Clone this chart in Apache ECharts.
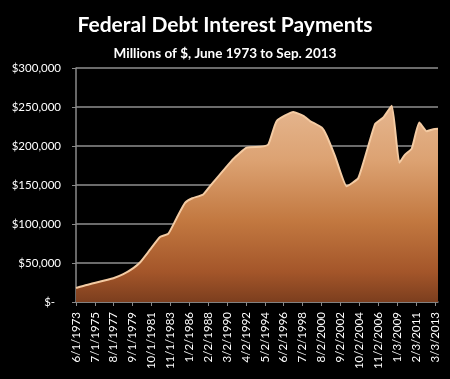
<!DOCTYPE html>
<html>
<head>
<meta charset="utf-8">
<script src="https://cdn.jsdelivr.net/npm/echarts@6/dist/echarts.min.js"></script>
<style>
html,body{margin:0;padding:0;background:#000;}
#chart{width:450px;height:379px;}
</style>
</head>
<body>
<div id="chart"></div>
<script>
// Tick labels on the date axis
var tickLabels = ['6/1/1973','7/1/1975','8/1/1977','9/1/1979','10/1/1981','11/1/1983','1/2/1986','2/2/1988','3/2/1990','4/2/1992','5/2/1994','6/2/1996','7/2/1998','8/2/2000','9/2/2002','10/2/2004','11/2/2006','1/3/2009','2/3/2011','3/3/2013'];
// Observation times (decimal years) and interest payments (millions of $)
var pointYears = [1973.42,1974.6,1977.55,1978.65,1979.76,1980.5,1981.61,1982.72,1983.64,1984.57,1985.49,1986.3,1987.5,1988.26,1990.84,1992.32,1993.79,1994.71,1995.64,1997.48,1998.59,1999.33,2000.62,2001.18,2002.1,2003.39,2004.68,2006.53,2007.45,2008.38,2009.22,2009.85,2010.59,2011.43,2012.25,2012.98,2013.5];
var interestValues = [18000,21900,30500,35600,43400,50600,67000,83300,87600,107800,127000,133000,137800,148500,183500,198000,199000,202000,232000,243700,238600,232000,223600,212800,187000,148500,159000,228000,236500,251500,178600,189000,196600,230000,219000,221500,222000];
var yTicks = [0,50000,100000,150000,200000,250000,300000];

function toYear(s){
  var p = s.split('/');
  var m = +p[0], d = +p[1], y = +p[2];
  return y + (m - 1 + (d - 1) / 30) / 12;
}
var tickYears = tickLabels.map(toYear);
var seriesData = pointYears.map(function(x, i){ return [x, interestValues[i]]; });

var FONT = 'Lato, "Open Sans", sans-serif';
var chart = echarts.init(document.getElementById('chart'));
chart.setOption({
  backgroundColor: '#000',
  animation: false,
  title: [
    {text: 'Federal Debt Interest Payments', left: 'center', top: 10,
     textStyle: {color: '#fff', fontSize: 21, fontWeight: 'bold', fontFamily: FONT}},
    {text: 'Millions of $, June 1973 to Sep. 2013', left: 'center', top: 42,
     textStyle: {color: '#fff', fontSize: 13.5, fontWeight: 'bold', fontFamily: FONT}}
  ],
  grid: {left: 76, right: 12, top: 68, bottom: 77},
  xAxis: {
    type: 'value',
    min: tickYears[0],
    max: pointYears[pointYears.length - 1],
    splitLine: {show: false},
    axisLine: {show: true, onZero: false, lineStyle: {color: '#8a8a8a', width: 1.5}},
    axisTick: {show: true, customValues: tickYears, length: 4, lineStyle: {color: '#8a8a8a'}},
    axisLabel: {
      customValues: tickYears,
      rotate: 90,
      margin: 10,
      color: '#fff',
      fontSize: 11.5,
      fontFamily: FONT,
      formatter: function(v){
        var best = 0, bd = 1e9;
        for (var i = 0; i < tickYears.length; i++) {
          var dd = Math.abs(tickYears[i] - v);
          if (dd < bd) { bd = dd; best = i; }
        }
        return tickLabels[best];
      }
    }
  },
  yAxis: {
    type: 'value',
    min: 0, max: 300000, interval: 50000,
    axisLine: {show: true, lineStyle: {color: '#8a8a8a', width: 1.5}},
    axisTick: {show: true, length: 4, lineStyle: {color: '#8a8a8a'}},
    splitLine: {show: true, lineStyle: {color: '#8f8f8f', width: 1.5}},
    axisLabel: {
      color: '#fff', fontSize: 11.5, fontFamily: FONT, margin: 15,
      formatter: function(v){ return v === 0 ? '$-  ' : '$' + v.toLocaleString('en-US'); }
    }
  },
  series: [{
    type: 'line',
    data: seriesData,
    smooth: 0.15,
    symbol: 'none',
    lineStyle: {color: '#f4cba3', width: 2},
    areaStyle: {
      opacity: 1,
      color: new echarts.graphic.LinearGradient(0, 100, 0, 302, [
        {offset: 0, color: '#e6b892'},
        {offset: 0.3, color: '#dca272'},
        {offset: 0.6, color: '#c27840'},
        {offset: 0.85, color: '#a4562a'},
        {offset: 1, color: '#7c3e1e'}
      ], true)
    }
  }]
});
</script>
</body>
</html>
